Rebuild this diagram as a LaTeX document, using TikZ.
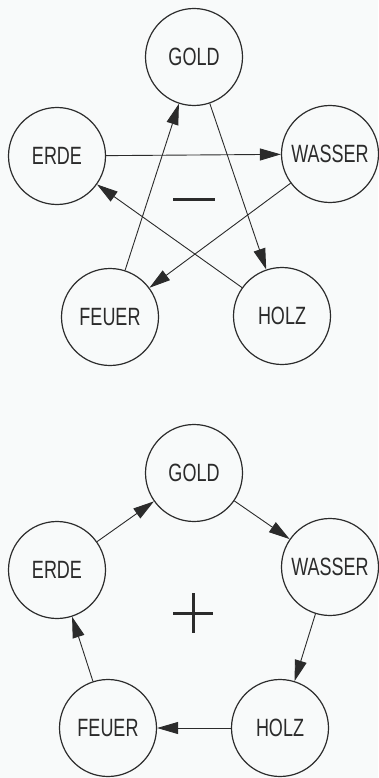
\documentclass[tikz,border=0pt]{standalone}
\usepackage{fontspec}
\newfontfamily\dinfont[FakeStretch=0.72]{Liberation Sans}
\usetikzlibrary{arrows.meta}
\definecolor{ink}{HTML}{2B2B2B}
\definecolor{paper}{HTML}{F8FAFA}
\tikzset{
  elem/.style={circle, draw=ink, line width=1.2pt, minimum size=97pt, inner sep=0pt,
    font=\dinfont\fontsize{25}{25}\selectfont, text=ink},
  link/.style={draw=ink, line width=0.9pt, -{Triangle[length=21pt,width=12pt]}},
  sign/.style={draw=ink, line width=3pt}
}
\begin{document}
\begin{tikzpicture}[x=1pt,y=-1pt]
\fill[paper] (0,0) rectangle (378,778);
\useasboundingbox (0,0) rectangle (378,778);
% top diagram
\node[elem] (g1) at (194,57) {GOLD};
\node[elem] (e1) at (57,156) {ERDE};
\node[elem] (w1) at (330,154) {WASSER};
\node[elem] (f1) at (110,317) {FEUER};
\node[elem] (h1) at (282,316) {HOLZ};
\draw[link] (e1) -- (w1);
\draw[link] (g1) -- (h1);
\draw[link] (h1) -- (e1);
\draw[link] (w1) -- (f1);
\draw[link] (f1) -- (g1);
\coordinate (m1) at (173,199);
\coordinate (m2) at (215,199);
\draw[sign] (m1) -- (m2);
% bottom diagram
\node[elem] (g2) at (194,473) {GOLD};
\node[elem] (e2) at (57,570) {ERDE};
\node[elem] (w2) at (330,567) {WASSER};
\node[elem] (f2) at (108,728) {FEUER};
\node[elem] (h2) at (280,728) {HOLZ};
\draw[link] (e2) -- (g2);
\draw[link] (g2) -- (w2);
\draw[link] (w2) -- (h2);
\draw[link] (h2) -- (f2);
\draw[link] (f2) -- (e2);
\coordinate (p1) at (173,613);
\coordinate (p2) at (213,613);
\coordinate (p3) at (193,593);
\coordinate (p4) at (193,633);
\draw[sign] (p1) -- (p2);
\draw[sign] (p3) -- (p4);
\end{tikzpicture}
\end{document}
